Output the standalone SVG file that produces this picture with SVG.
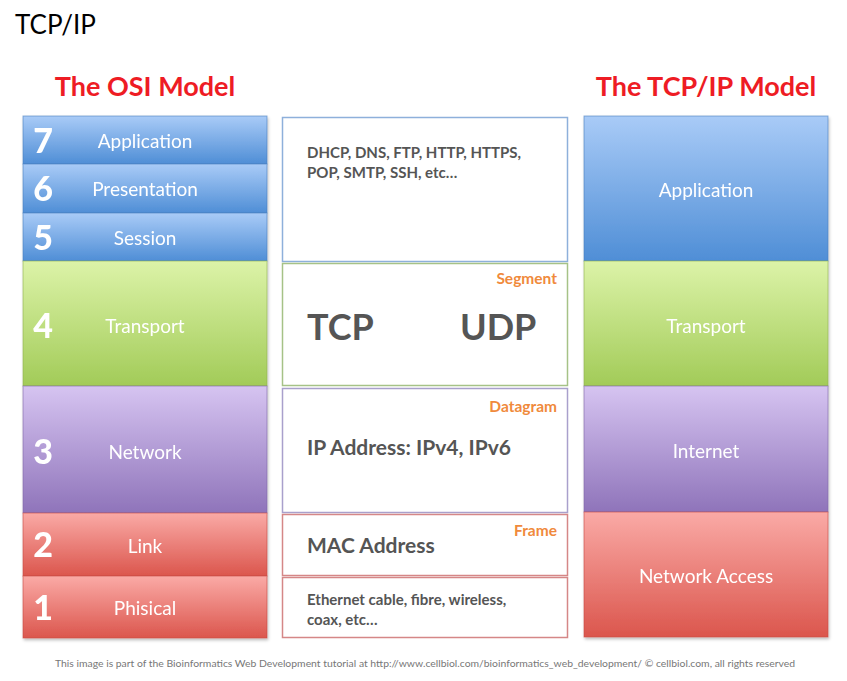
<svg xmlns="http://www.w3.org/2000/svg" width="847" height="681" viewBox="0 0 847 681">
<defs>
<linearGradient id="gBlue" x1="0" y1="0" x2="0" y2="1"><stop offset="0" stop-color="#a9cbf7"/><stop offset="1" stop-color="#4f8ed6"/></linearGradient>
<linearGradient id="gGreen" x1="0" y1="0" x2="0" y2="1"><stop offset="0" stop-color="#dcf3a8"/><stop offset="1" stop-color="#a2cb58"/></linearGradient>
<linearGradient id="gPurple" x1="0" y1="0" x2="0" y2="1"><stop offset="0" stop-color="#d6c4f1"/><stop offset="1" stop-color="#8f74ba"/></linearGradient>
<linearGradient id="gRed" x1="0" y1="0" x2="0" y2="1"><stop offset="0" stop-color="#faaaa6"/><stop offset="1" stop-color="#db564d"/></linearGradient>
<filter id="sh" x="-5%" y="-5%" width="110%" height="110%"><feDropShadow dx="1" dy="2" stdDeviation="1.5" flood-color="#000" flood-opacity="0.25"/></filter>
</defs>
<style>
text{font-family:Lato,"Open Sans","Liberation Sans",sans-serif}
.title{font-size:26px;fill:#000}
.head{font-size:27px;font-weight:bold;fill:#ee1c24;text-anchor:middle}
.num{font-size:34px;font-weight:900;fill:#fff;text-anchor:middle}
.lname{font-size:19px;fill:#fff;text-anchor:middle}
.mid{font-weight:bold;fill:#555}
.pdu{font-size:15.5px;font-weight:bold;fill:#f08a3c;text-anchor:end}
.foot{font-size:10.4px;fill:#777;text-anchor:middle}
.edge{stroke-width:1;stroke-opacity:0.6}
</style>
<rect width="847" height="681" fill="#fff"/>
<text class="title" x="15" y="34">TCP/IP</text>
<text class="head" x="145" y="96">The OSI Model</text>
<text class="head" x="706" y="96">The TCP/IP Model</text>

<g id="osi" filter="url(#sh)">
<g id="osi7"><rect x="23" y="116" width="244" height="48" fill="url(#gBlue)" stroke="#4a7fc0" class="edge"/><text class="num" x="43" y="153">7</text><text class="lname" x="145" y="148">Application</text></g>
<g id="osi6"><rect x="23" y="164" width="244" height="49" fill="url(#gBlue)" stroke="#4a7fc0" class="edge"/><text class="num" x="43" y="201">6</text><text class="lname" x="145" y="196">Presentation</text></g>
<g id="osi5"><rect x="23" y="213" width="244" height="48" fill="url(#gBlue)" stroke="#4a7fc0" class="edge"/><text class="num" x="43" y="250">5</text><text class="lname" x="145" y="245">Session</text></g>
<g id="osi4"><rect x="23" y="261" width="244" height="125" fill="url(#gGreen)" stroke="#8fb050" class="edge"/><text class="num" x="43" y="338">4</text><text class="lname" x="145" y="333">Transport</text></g>
<g id="osi3"><rect x="23" y="386" width="244" height="127" fill="url(#gPurple)" stroke="#8069a8" class="edge"/><text class="num" x="43" y="464">3</text><text class="lname" x="145" y="459">Network</text></g>
<g id="osi2"><rect x="23" y="513" width="244" height="63" fill="url(#gRed)" stroke="#c84a42" class="edge"/><text class="num" x="43" y="557">2</text><text class="lname" x="145" y="553">Link</text></g>
<g id="osi1"><rect x="23" y="576" width="244" height="62" fill="url(#gRed)" stroke="#c84a42" class="edge"/><text class="num" x="43" y="620">1</text><text class="lname" x="145" y="615">Phisical</text></g>
</g>

<g id="middle">
<g id="m-app"><rect x="282.5" y="117.5" width="285" height="144" fill="#fff" stroke="#8eb0db" stroke-width="1.5"/>
<text class="mid" font-size="15" x="307" y="158">DHCP, DNS, FTP, HTTP, HTTPS,</text>
<text class="mid" font-size="15" x="307" y="178">POP, SMTP, SSH, etc…</text></g>
<g id="m-tr"><rect x="282.5" y="263.5" width="285" height="122" fill="#fff" stroke="#a6c287" stroke-width="1.5"/>
<text class="pdu" x="557" y="284">Segment</text>
<text class="mid" font-size="36" x="307" y="340">TCP</text>
<text class="mid" font-size="36" x="460" y="340">UDP</text></g>
<g id="m-net"><rect x="282.5" y="388.5" width="285" height="124" fill="#fff" stroke="#a9a0cc" stroke-width="1.5"/>
<text class="pdu" x="557" y="412">Datagram</text>
<text class="mid" font-size="21" x="307" y="455">IP Address: IPv4, IPv6</text></g>
<g id="m-link"><rect x="282.5" y="514.5" width="285" height="61" fill="#fff" stroke="#d58787" stroke-width="1.5"/>
<text class="pdu" x="557" y="536">Frame</text>
<text class="mid" font-size="21" x="307" y="553">MAC Address</text></g>
<g id="m-phy"><rect x="282.5" y="577.5" width="285" height="60" fill="#fff" stroke="#d58787" stroke-width="1.5"/>
<text class="mid" font-size="15" x="307" y="605">Ethernet cable, fibre, wireless,</text>
<text class="mid" font-size="15" x="307" y="625">coax, etc…</text></g>
</g>

<g id="tcpip" filter="url(#sh)">
<g id="t-app"><rect x="584" y="116" width="244" height="145" fill="url(#gBlue)" stroke="#4a7fc0" class="edge"/><text class="lname" x="706" y="197">Application</text></g>
<g id="t-tr"><rect x="584" y="261" width="244" height="125" fill="url(#gGreen)" stroke="#8fb050" class="edge"/><text class="lname" x="706" y="333">Transport</text></g>
<g id="t-inet"><rect x="584" y="386" width="244" height="126" fill="url(#gPurple)" stroke="#8069a8" class="edge"/><text class="lname" x="706" y="458">Internet</text></g>
<g id="t-na"><rect x="584" y="512" width="244" height="125" fill="url(#gRed)" stroke="#c84a42" class="edge"/><text class="lname" x="706" y="583">Network Access</text></g>
</g>

<g id="connectors"/>

<text class="foot" x="425" y="667">This image is part of the Bioinformatics Web Development tutorial at  http://www.cellbiol.com/bioinformatics_web_development/  © cellbiol.com, all rights reserved</text>
</svg>
